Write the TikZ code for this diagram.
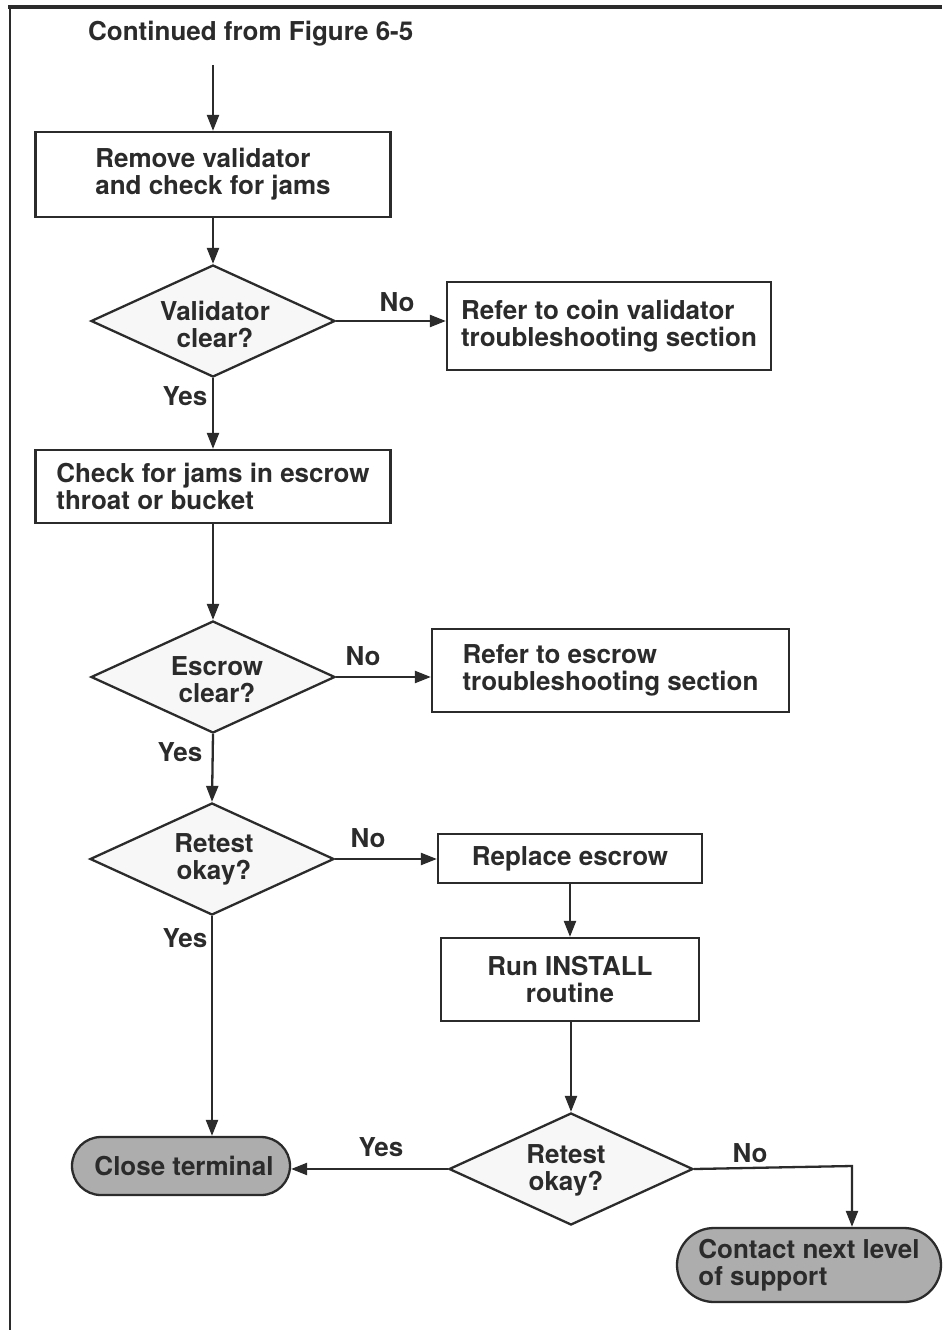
\documentclass[tikz,border=0pt]{standalone}
\usepackage{fontspec}
\setmainfont{TeX Gyre Heros}
\usetikzlibrary{arrows.meta,shapes.geometric}
\definecolor{ink}{HTML}{2B2B2B}
\begin{document}
\begin{tikzpicture}[x=1pt,y=-1pt,
  every node/.style={font=\fontsize{26}{27}\selectfont\bfseries, text=ink},
  box/.style={draw=ink, line width=2.3pt, fill=white, inner sep=0pt, align=left},
  dia/.style={draw=ink, line width=2.3pt, diamond, fill=black!3, inner sep=0pt, minimum width=244pt, minimum height=112pt},
  term/.style={draw=ink, line width=2.3pt, fill=black!32, inner sep=0pt, align=left},
  lbl/.style={inner sep=0pt},
  conn/.style={draw=ink, line width=2.3pt},
  arr/.style={conn, -{Triangle[length=16pt,width=12pt]}}
]
\useasboundingbox (0,0) rectangle (942,1330);
% frame
\draw[ink, line width=2.5pt] (10,1330) -- (10,7);
\draw[ink, line width=4pt] (8,7) -- (942,7);

\node[lbl, anchor=west] (cont) at (88,34) {Continued from Figure 6-5};
\coordinate (start) at (213,65);

\node[box, minimum width=355pt, minimum height=85pt] (b1) at (213,174.5) {Remove validator\\and check for jams};
\node[dia] (d1) at (213,321) {};
\node[lbl, align=center] at (215,324) {Validator\\clear?};
\node[box, minimum width=324pt, minimum height=88pt] (b2) at (609,326) {Refer to coin validator\\troubleshooting section};
\node[box, minimum width=355pt, minimum height=73pt] (b3) at (213,486.5) {Check for jams in escrow\\throat or bucket};
\node[dia] (d2) at (213,677) {};
\node[lbl, align=center] at (217,680) {Escrow\\clear?};
\node[box, minimum width=357pt, minimum height=83pt] (b4) at (610.5,670.5) {Refer to escrow\\troubleshooting section};
\node[dia] (d3) at (212,859) {};
\node[lbl, align=center] at (214,859) {Retest\\okay?};
\node[box, minimum width=264pt, minimum height=49pt] (b5) at (570,858.5) {Replace escrow};
\node[box, minimum width=258pt, minimum height=83pt, align=center] (b6) at (570,979.5) {Run INSTALL\\routine};
\node[dia] (d4) at (571,1169) {};
\node[lbl, align=center] at (566,1170) {Retest\\okay?};
\node[term, minimum width=218pt, minimum height=58pt, rounded corners=29pt] (t1) at (181,1166) {\hspace*{6pt}Close terminal};
\node[term, minimum width=264pt, minimum height=74pt, rounded corners=37pt] (t2) at (809,1265) {Contact next level\\of support};

% connectors
\draw[arr] (start) -- (b1.north);
\draw[arr] (b1.south) -- (d1.north);
\draw[arr] (d1.east) -- (d1.east -| b2.west);
\draw[arr] (d1.south) -- (b3.north);
\draw[arr] (b3.south) -- (d2.north);
\draw[arr] (d2.east) -- (d2.east -| b4.west);
\draw[arr] (d2.south) -- (d3.north);
\draw[arr] (d3.east) -- (d3.east -| b5.west);
\draw[arr] (d3.south) -- (d3.south |- t1.north);
\draw[arr] (b5.south) -- (b6.north);
\draw[arr] (b6.south -| d4.north) -- (d4.north);
\draw[arr] (d4.west) -- (d4.west -| t1.east);
\coordinate (corner) at (852,1166);
\draw[arr] (d4.east) -- (corner) -- (corner |- t2.north);

% labels
\node[lbl] at (397,302) {No};
\node[lbl] at (185,396) {Yes};
\node[lbl] at (363,656) {No};
\node[lbl] at (180,752) {Yes};
\node[lbl] at (368,838) {No};
\node[lbl] at (185,938) {Yes};
\node[lbl] at (381,1147) {Yes};
\node[lbl] at (750,1153) {No};
\end{tikzpicture}
\end{document}
